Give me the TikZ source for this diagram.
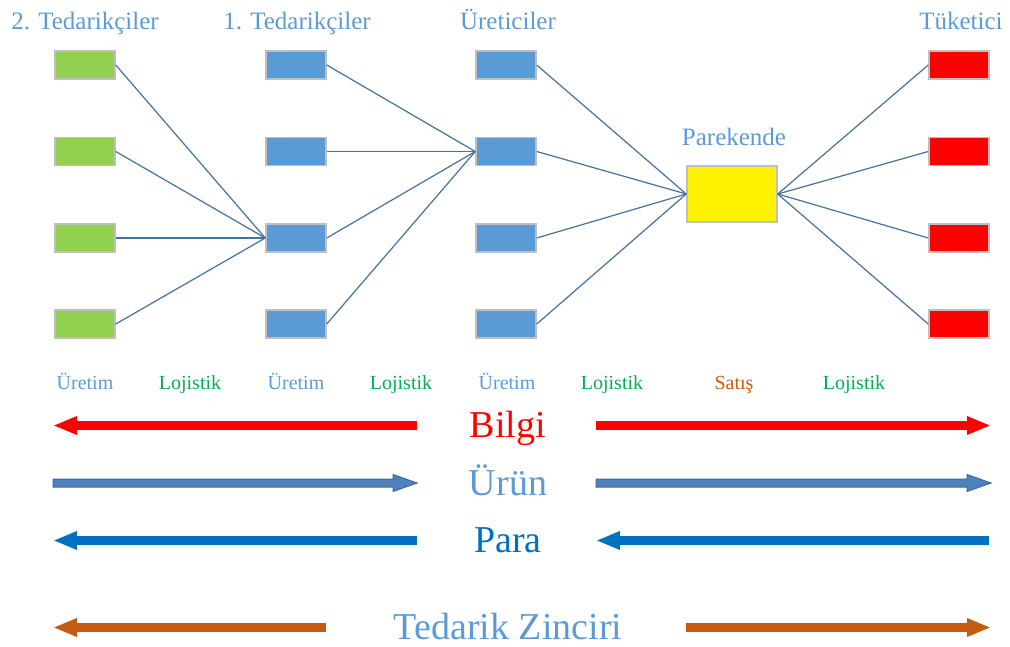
\documentclass[tikz,border=0pt]{standalone}
\usepackage{fontspec}
\setmainfont{LiberationSerif}[Extension=.ttf, UprightFont=*-Regular, BoldFont=*-Bold, ItalicFont=*-Italic, BoldItalicFont=*-BoldItalic]
\usetikzlibrary{arrows.meta}
\definecolor{hdr}{HTML}{5B9BD5}
\definecolor{gbox}{HTML}{92D050}
\definecolor{bbox}{HTML}{5B9BD5}
\definecolor{bord}{HTML}{BFBFBF}
\definecolor{lnk}{HTML}{44729E}
\definecolor{lgreen}{HTML}{00B050}
\definecolor{orng}{HTML}{C55A11}
\definecolor{para}{HTML}{0070C0}
\definecolor{urunf}{HTML}{4F81BD}
\definecolor{urund}{HTML}{3E6A99}
\tikzset{
  box/.style={draw=bord, line width=1.5pt, inner sep=0pt, minimum width=60pt, minimum height=28pt},
  gb/.style={box, fill=gbox},
  bb/.style={box, fill=bbox},
  rb/.style={box, fill=red},
  yb/.style={box, fill=yellow, minimum width=90pt, minimum height=56pt},
  link/.style={draw=lnk, line width=1.2pt},
  head/.style={text=hdr, font=\fontsize{25}{30}\selectfont, anchor=base, inner sep=0pt},
  small/.style={font=\fontsize{20}{24}\selectfont, anchor=base, inner sep=0pt},
  big/.style={font=\fontsize{38}{44}\selectfont, anchor=base, inner sep=0pt},
  fat/.style={line width=9pt, -{Triangle[length=24pt,width=17pt]}},
}
\begin{document}
\begin{tikzpicture}[x=1pt,y=-1pt]
\useasboundingbox (0,0) rectangle (1010,646);
% headers
\node[head] (h1) at (85,29) {2. Tedarikçiler};
\node[head] (h2) at (297,29) {1. Tedarikçiler};
\node[head] (h3) at (508,29) {Üreticiler};
\node[head] (h4) at (961,29) {Tüketici};
\node[head] (h5) at (734,145) {Parekende};
% boxes
\foreach \i/\y in {1/65,2/151.5,3/238,4/324}{
  \node[gb] (g\i) at (85,\y) {};
  \node[bb] (s\i) at (296,\y) {};
  \node[bb] (m\i) at (506,\y) {};
  \node[rb] (c\i) at (959,\y) {};
}
\node[yb] (r) at (732,194) {};
% links
\foreach \i in {1,...,4}{
  \draw[link] (g\i.east) -- (s3.west);
  \draw[link] (s\i.east) -- (m2.west);
  \draw[link] (m\i.east) -- (r.west);
  \draw[link] (r.east) -- (c\i.west);
}
% stage labels
\node[small, text=hdr] (l1) at (85,389) {Üretim};
\node[small, text=lgreen] (l2) at (190,389) {Lojistik};
\node[small, text=hdr] (l3) at (296,389) {Üretim};
\node[small, text=lgreen] (l4) at (401,389) {Lojistik};
\node[small, text=hdr] (l5) at (507,389) {Üretim};
\node[small, text=lgreen] (l6) at (612,389) {Lojistik};
\node[small, text=orng] (l7) at (734,389) {Satış};
\node[small, text=lgreen] (l8) at (854,389) {Lojistik};
% flow labels
\node[big, text=red] (bilgi) at (508,437) {Bilgi};
\node[big, text=hdr] (urun) at (508,495) {Ürün};
\node[big, text=para] (para) at (508,552) {Para};
\node[big, text=hdr, text depth=0pt] (tz) at (508,639) {Tedarik Zinciri};
% Bilgi arrows
\coordinate (b1) at (417,425.5); \coordinate (b2) at (53,425.5);
\coordinate (b3) at (596,425.5); \coordinate (b4) at (991,425.5);
\draw[fat, red] (b1) -- (b2);
\draw[fat, red] (b3) -- (b4);
% Urun arrows
\filldraw[fill=urunf, draw=urund, line width=1pt] (53,479) -- (393,479) -- (393,474.5) -- (417,483) -- (393,491.5) -- (393,487) -- (53,487) -- cycle;
\filldraw[fill=urunf, draw=urund, line width=1pt] (596,479) -- (967,479) -- (967,474.5) -- (991,483) -- (967,491.5) -- (967,487) -- (596,487) -- cycle;
% Para arrows
\coordinate (p1) at (417,540.5); \coordinate (p2) at (53,540.5);
\coordinate (p3) at (989,540.5); \coordinate (p4) at (596,540.5);
\draw[fat, para] (p1) -- (p2);
\draw[fat, para] (p3) -- (p4);
% Tedarik Zinciri arrows
\coordinate (t1) at (326,627.5); \coordinate (t2) at (53,627.5);
\coordinate (t3) at (686,627.5); \coordinate (t4) at (991,627.5);
\draw[fat, orng] (t1) -- (t2);
\draw[fat, orng] (t3) -- (t4);
\end{tikzpicture}
\end{document}
